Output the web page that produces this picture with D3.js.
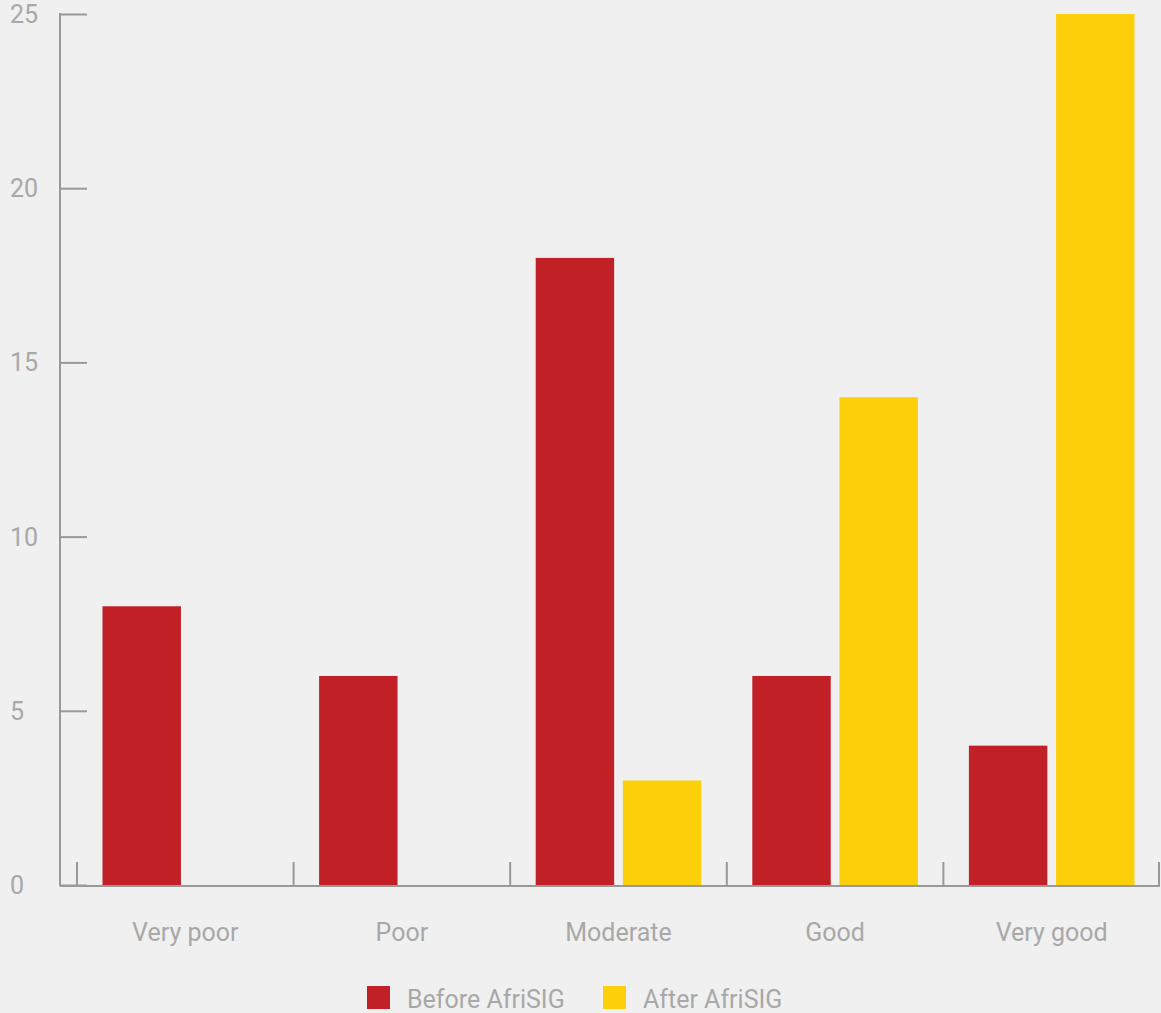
<!DOCTYPE html>
<html><head><meta charset="utf-8">
<script src="https://cdn.jsdelivr.net/npm/d3@7"></script>
<style>
html,body{margin:0;padding:0;background:#f0f0f0;}
svg{display:block;font-family:Roboto,"Noto Sans",sans-serif;}
</style></head>
<body>
<svg id="chart" width="1161" height="1013"></svg>
<script>
const categories = ["Very poor","Poor","Moderate","Good","Very good"];
const seriesNames = ["Before AfriSIG","After AfriSIG"];
const beforeValues = [8,6,18,6,4];
const afterValues = [0,0,3,14,25];
const yTicks = [0,5,10,15,20,25];
const colors = ["#c02026","#fccf0b"];

const svg = d3.select("#chart");
const axisColor = "#999999", textColor = "#a8a8a8";
const fontSize = 25;
const x0 = 77, x1 = 1160, yTop = 14, yBase = 885;
const x = d3.scaleBand().domain(categories).range([x0, x1]).paddingInner(0).paddingOuter(0);
const y = d3.scaleLinear().domain([0,25]).range([yBase, yTop]);
const sub = d3.scaleBand().domain(seriesNames).range([25.5, x.bandwidth()-25.5]).paddingInner(0.1);

// y axis
const yAxis = d3.axisRight(y).tickValues(yTicks).tickSize(27).tickFormat("");
const yg = svg.append("g").attr("transform","translate(60,0)").call(yAxis);
yg.select(".domain").remove();
yg.selectAll(".tick line").attr("stroke",axisColor).attr("stroke-width",2);
svg.append("line").attr("x1",60).attr("x2",60).attr("y1",y(25)-1).attr("y2",yBase+1).attr("stroke",axisColor).attr("stroke-width",2);
svg.selectAll(".ylab").data(yTicks).enter().append("text")
  .attr("x",10).attr("y",d=>y(d)+9).attr("fill",textColor).attr("font-size",fontSize).text(d=>d);

// bars
const data = categories.map((c,i)=>({c, vals:[beforeValues[i], afterValues[i]]}));
const groups = svg.selectAll(".grp").data(data).enter().append("g").attr("transform",d=>`translate(${x(d.c)},0)`);
groups.selectAll("rect").data(d=>d.vals.map((v,j)=>({v,j}))).enter().append("rect")
  .attr("x",d=>sub(seriesNames[d.j])).attr("width",sub.bandwidth())
  .attr("y",d=>y(d.v)).attr("height",d=>yBase-y(d.v)).attr("fill",d=>colors[d.j]);

// x axis
svg.append("line").attr("x1",60).attr("x2",x1).attr("y1",yBase+1).attr("y2",yBase+1).attr("stroke",axisColor).attr("stroke-width",2);
const xTickPos = categories.map(c=>x(c)).concat([x1-1]);
svg.selectAll(".xt").data(xTickPos).enter().append("line")
  .attr("x1",d=>d).attr("x2",d=>d).attr("y1",862).attr("y2",yBase+1).attr("stroke",axisColor).attr("stroke-width",2);
svg.selectAll(".xlab").data(categories).enter().append("text")
  .attr("x",d=>x(d)+x.bandwidth()/2).attr("y",941).attr("text-anchor","middle")
  .attr("fill",textColor).attr("font-size",fontSize).text(d=>d);

// legend
const legX = [367,603];
seriesNames.forEach((s,i)=>{
  svg.append("rect").attr("x",legX[i]).attr("y",986).attr("width",23).attr("height",23).attr("fill",colors[i]);
  svg.append("text").attr("x",legX[i]+40).attr("y",1008).attr("fill",textColor).attr("font-size",fontSize).text(s);
});
</script>
</body></html>
